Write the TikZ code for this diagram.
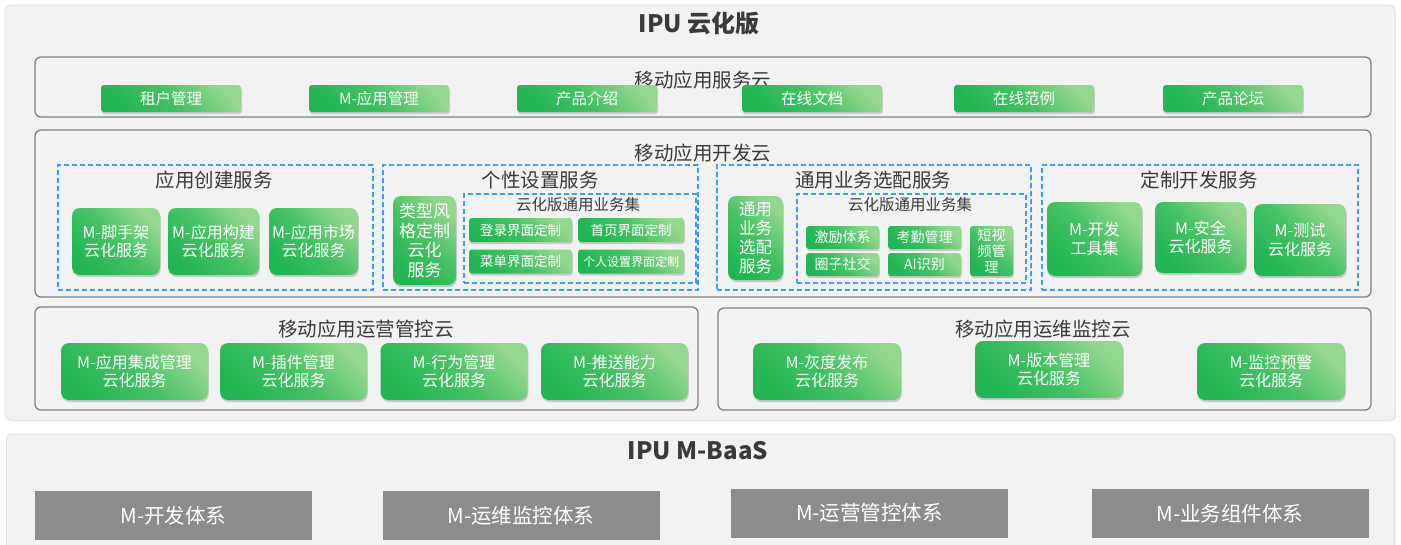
\documentclass[tikz,border=0pt]{standalone}
\usepackage{fontspec}
\setmainfont{Noto Sans CJK SC}
\usetikzlibrary{shadows}
\definecolor{panelgray}{HTML}{F2F2F2}
\definecolor{paneledge}{HTML}{E2E2E2}
\definecolor{cloudedge}{HTML}{7F7F7F}
\definecolor{dashblue}{HTML}{3D9BFF}
\definecolor{gdark}{HTML}{22B553}
\definecolor{gmid}{HTML}{45C164}
\definecolor{glight}{HTML}{94D78F}
\definecolor{boxgray}{HTML}{8C8C8C}
\definecolor{titlegray}{HTML}{3A3A3A}
\newcommand\fsz[2]{\fontsize{#1pt}{#2pt}\selectfont}
\tikzset{
  panel/.style={draw=paneledge, fill=panelgray, rounded corners=5pt, line width=0.8pt,
    drop shadow={shadow xshift=1pt, shadow yshift=-1.5pt, opacity=0.15}},
  cloudbox/.style={draw=cloudedge, fill=panelgray, rounded corners=6pt, line width=1.3pt},
  grp/.style={draw=dashblue, dash pattern=on 5pt off 3pt, line width=1.4pt},
  ttl/.style={font=\bfseries\fsz{24}{27}, text=titlegray, inner sep=0pt},
  ctitle/.style={font=\fsz{19.5}{22}, text=titlegray, inner sep=0pt},
  stitle/.style={font=\fsz{15.5}{18}, text=titlegray, inner sep=0pt},
  green/.style={top color=glight, bottom color=gdark, middle color=gmid, shading angle=-45,
    text=white, align=center, inner sep=0pt,
    drop shadow={shadow xshift=0.8pt, shadow yshift=-2.2pt, opacity=0.35}},
  gbox/.style={green, rounded corners=8pt, font=\fsz{16}{18.5}},
  svcbox/.style={green, rounded corners=3pt, font=\fsz{15.5}{18},
    minimum width=140pt, minimum height=27pt},
  smallbox/.style={green, rounded corners=3pt, font=\fsz{13.5}{16}},
  graybox/.style={fill=boxgray, text=white, font=\fsz{20.5}{23}, inner sep=0pt,
    minimum width=277pt, minimum height=49pt},
}
\begin{document}
\begin{tikzpicture}[x=1pt,y=-1pt]
\useasboundingbox (0,0) rectangle (1401,544);
\clip (0,0) rectangle (1401,544);
\fill[white] (0,0) rectangle (1401,544);

% ---------- outer panels ----------
\node[panel, minimum width=1390pt, minimum height=415pt] (pcloud) at (700,212.5) {};
\node[ttl] (tcloud) at (699,23) {IPU 云化版};
\node[panel, minimum width=1388pt, minimum height=130pt] (pbaas) at (700.5,499) {};
\node[ttl] (tbaas) at (698,451) {IPU M-BaaS};

% ---------- service cloud ----------
\node[cloudbox, minimum width=1336pt, minimum height=60pt] (svc) at (703,87) {};
\node[ctitle] (tsvc) at (703,80) {移动应用服务云};
\node[svcbox] (s1) at (171,98.5) {租户管理};
\node[svcbox] (s2) at (379,98.5) {M-应用管理};
\node[svcbox] (s3) at (587,98.5) {产品介绍};
\node[svcbox] (s4) at (812,98.5) {在线文档};
\node[svcbox] (s5) at (1024,98.5) {在线范例};
\node[svcbox] (s6) at (1233,98.5) {产品论坛};

% ---------- dev cloud ----------
\node[cloudbox, minimum width=1336pt, minimum height=167pt] (dev) at (703,213.5) {};
\node[ctitle] (tdev) at (703,153) {移动应用开发云};

% group 1
\node[grp, minimum width=315pt, minimum height=125pt] (g1) at (215.5,227.5) {};
\node[ctitle] (tg1) at (214,180) {应用创建服务};
\node[gbox, minimum width=88pt, minimum height=67pt] (a1) at (116,241.5) {M-脚手架\\云化服务};
\node[gbox, minimum width=91pt, minimum height=67pt] (a2) at (213.5,241.5) {M-应用构建\\云化服务};
\node[gbox, minimum width=89pt, minimum height=67pt] (a3) at (313.5,241.5) {M-应用市场\\云化服务};

% group 2
\node[grp, minimum width=315pt, minimum height=125pt] (g2) at (540.5,227.5) {};
\node[ctitle] (tg2) at (540,180) {个性设置服务};
\node[gbox, font=\fsz{17}{19.5}, minimum width=63pt, minimum height=89pt] (b0) at (424.5,240.5) {类型风\\格定制\\云化\\服务};
\node[grp, minimum width=232pt, minimum height=89pt] (g2i) at (580,238.5) {};
\node[stitle] (tg2i) at (578,205) {云化版通用业务集};
\node[smallbox, minimum width=103pt, minimum height=24pt] (b1) at (520.5,230) {登录界面定制};
\node[smallbox, minimum width=106pt, minimum height=24pt] (b2) at (631,230) {首页界面定制};
\node[smallbox, minimum width=103pt, minimum height=24pt] (b3) at (520.5,261.5) {菜单界面定制};
\node[smallbox, minimum width=106pt, minimum height=24pt, font=\fsz{12}{14}] (b4) at (631,261.5) {个人设置界面定制};

% group 3
\node[grp, minimum width=314pt, minimum height=125pt] (g3) at (874,227.5) {};
\node[ctitle] (tg3) at (873,180) {通用业务选配服务};
\node[gbox, font=\fsz{16.5}{19}, minimum width=55pt, minimum height=84pt] (c0) at (755.5,238) {通用\\业务\\选配\\服务};
\node[grp, minimum width=229pt, minimum height=89pt] (g3i) at (911.5,238.5) {};
\node[stitle] (tg3i) at (910,205) {云化版通用业务集};
\node[smallbox, font=\fsz{14}{16}, minimum width=73pt, minimum height=23pt] (c1) at (842.5,237.5) {激励体系};
\node[smallbox, font=\fsz{14}{16}, minimum width=73pt, minimum height=23pt] (c2) at (924.5,237.5) {考勤管理};
\node[smallbox, font=\fsz{14}{16}, minimum width=73pt, minimum height=23pt] (c3) at (842.5,264.5) {圈子社交};
\node[smallbox, font=\fsz{14}{16}, minimum width=73pt, minimum height=23pt] (c4) at (924.5,264.5) {AI识别};
\node[smallbox, font=\fsz{14}{16}, minimum width=43pt, minimum height=50pt] (c5) at (991.5,251) {短视\\频管\\理};

% group 4
\node[grp, minimum width=316pt, minimum height=125pt] (g4) at (1200,227.5) {};
\node[ctitle] (tg4) at (1199,180) {定制开发服务};
\node[gbox, minimum width=95pt, minimum height=74pt] (d1) at (1094.5,239) {M-开发\\工具集};
\node[gbox, minimum width=91pt, minimum height=71pt] (d2) at (1200.5,237.5) {M-安全\\云化服务};
\node[gbox, minimum width=92pt, minimum height=72pt] (d3) at (1300,240) {M-测试\\云化服务};

% ---------- ops cloud ----------
\node[cloudbox, minimum width=663pt, minimum height=103pt] (ops) at (366.5,358.5) {};
\node[ctitle] (tops) at (366,329) {移动应用运营管控云};
\node[gbox, minimum width=147pt, minimum height=57pt] (o1) at (134.5,371.5) {M-应用集成管理\\云化服务};
\node[gbox, minimum width=147pt, minimum height=57pt] (o2) at (293.5,371.5) {M-插件管理\\云化服务};
\node[gbox, minimum width=147pt, minimum height=57pt] (o3) at (454,371.5) {M-行为管理\\云化服务};
\node[gbox, minimum width=147pt, minimum height=57pt] (o4) at (614.5,371.5) {M-推送能力\\云化服务};

% ---------- monitoring cloud ----------
\node[cloudbox, minimum width=653pt, minimum height=102pt] (mon) at (1044.5,359) {};
\node[ctitle] (tmon) at (1043,329) {移动应用运维监控云};
\node[gbox, minimum width=148pt, minimum height=57pt] (m1) at (827,371.5) {M-灰度发布\\云化服务};
\node[gbox, minimum width=148pt, minimum height=57pt] (m2) at (1049,369.5) {M-版本管理\\云化服务};
\node[gbox, minimum width=148pt, minimum height=57pt] (m3) at (1271,371.5) {M-监控预警\\云化服务};

% ---------- M-BaaS ----------
\node[graybox] (k1) at (173.5,515.5) {M-开发体系};
\node[graybox] (k2) at (521,515.5) {M-运维监控体系};
\node[graybox] (k3) at (869.5,513) {M-运营管控体系};
\node[graybox] (k4) at (1230,513.5) {M-业务组件体系};
\end{tikzpicture}
\end{document}
